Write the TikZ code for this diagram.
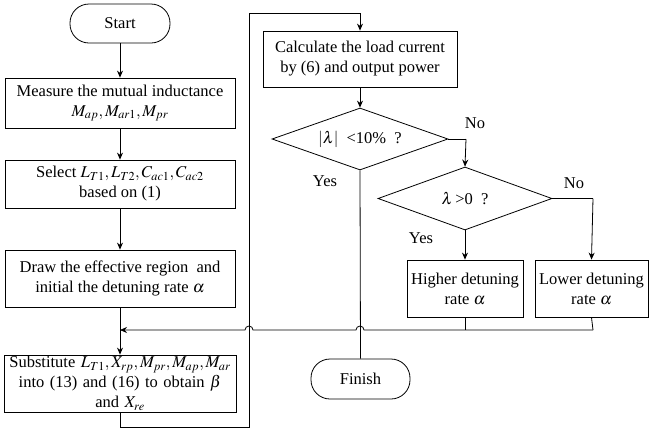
\documentclass[tikz,border=0pt]{standalone}
\usepackage{mathptmx}
\usepackage{fontspec}
\setmainfont{Liberation Serif}
\usetikzlibrary{shapes.geometric,arrows.meta}
\begin{document}
\begin{tikzpicture}[x=1pt,y=-1pt,
  every node/.style={font=\fontsize{16.5}{20}\selectfont},
  box/.style={draw,line width=0.8pt,align=center,inner sep=2pt},
  term/.style={draw,line width=0.8pt,rounded corners=19pt,align=center},
  dec/.style={draw,line width=0.8pt,diamond,aspect=2.8,inner sep=0pt,align=center},
  conn/.style={line width=0.8pt},
  arr/.style={line width=0.8pt,-{Stealth[length=7pt,width=6pt]}},
  lbl/.style={inner sep=1pt}]
\useasboundingbox (0,0) rectangle (649,429);
\node[term,minimum width=100pt,minimum height=39pt] (start) at (120,23.5) {Start};
\node[box,minimum width=230pt,minimum height=50pt] (b1) at (120,103) {Measure the mutual inductance\\ $M_{ap},M_{ar1},M_{pr}$};
\node[box,minimum width=230pt,minimum height=48pt] (b2) at (120,184) {Select $L_{T1},L_{T2},C_{ac1},C_{ac2}$\\ based on (1)};
\node[box,minimum width=230pt,minimum height=57pt] (b3) at (120,278.5) {Draw the effective region\ \ and\\ initial the detuning rate $\alpha$};
\node[box,minimum width=230pt,minimum height=57pt,text width=232pt,inner sep=0pt] (b4) at (120,383.5) {Substitute $L_{T1},X_{rp},M_{pr},M_{ap},M_{ar}$\\ into (13) and (16) to obtain $\beta$\\ and $X_{re}$};
\node[box,minimum width=194pt,minimum height=56pt] (b5) at (360,59) {Calculate the load current\\ by (6) and output power};
\node[dec,minimum width=176pt,minimum height=62pt] (d1) at (360,139) {$|\lambda|$\ \ <10\%\ \ ?};
\node[dec,minimum width=174pt,minimum height=63pt] (d2) at (465,198.5) {$\lambda$\,>0\ \ ?};
\node[box,minimum width=116pt,minimum height=57pt] (b6) at (465,288.5) {Higher detuning\\ rate $\alpha$};
\node[box,minimum width=113pt,minimum height=57pt] (b7) at (591.5,288.5) {Lower detuning\\ rate $\alpha$};
\node[term,minimum width=99pt,minimum height=40pt] (fin) at (360.5,379) {Finish};
\node[lbl] (no1) at (475,123) {No};
\node[lbl] (yes1) at (325,181) {Yes};
\node[lbl] (no2) at (574,183) {No};
\node[lbl] (yes2) at (421,238) {Yes};
\coordinate (j) at (120,330);
\coordinate (l1) at (120,427);
\coordinate (l2) at (249,427);
\coordinate (l3) at (249,13);
\coordinate (l4) at (360,13);
\coordinate (c1) at (466,139);
\coordinate (c2) at (593,198.5);
\coordinate (m6) at (465,330);
\coordinate (m7) at (593,330);
\draw[arr] (start) -- (b1);
\draw[arr] (b1) -- (b2);
\draw[arr] (b2) -- (b3);
\draw[arr] (b3) -- (b4);
\draw[conn] (b4.south) -- (l1) -- (l2) -- (l3) -- (l4);
\draw[arr] (l4) -- (b5.north);
\draw[arr] (b5) -- (d1);
\draw[conn] (d1.east) -- (c1);
\draw[arr] (c1) -- (d2.north);
\draw[conn] (d1.south) -- (fin.north);
\draw[conn] (d2.east) -- (c2);
\draw[arr] (c2) -- (b7.north);
\draw[arr] (d2.south) -- (b6.north);
\draw[conn] (b6.south) -- (m6);
\draw[conn] (b7.south) -- (m7);
\draw[arr] (m7) -- (364,330) arc[start angle=0,end angle=-180,radius=4] -- (253,330) arc[start angle=0,end angle=-180,radius=4] -- (j);
\end{tikzpicture}
\end{document}
